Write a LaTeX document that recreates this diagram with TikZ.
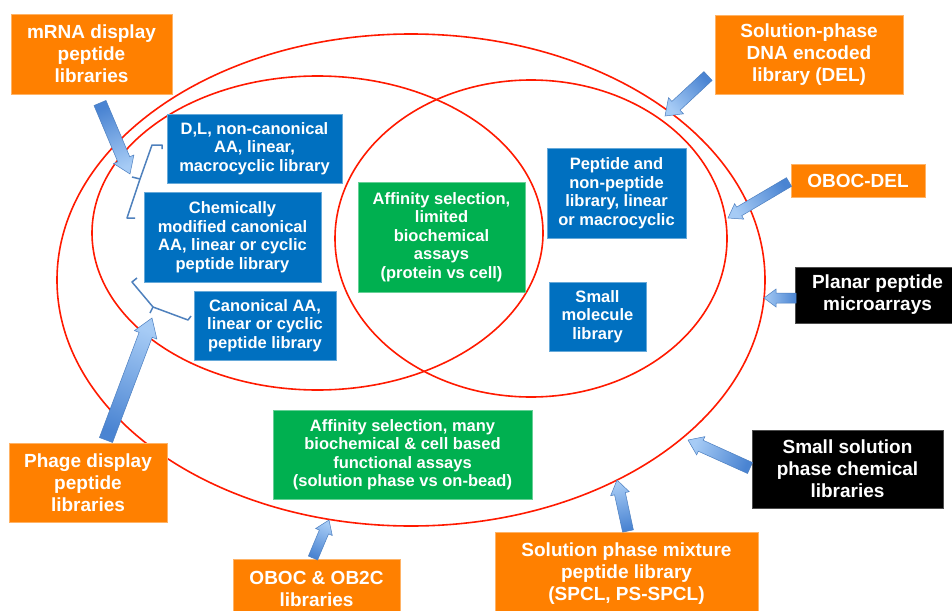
\documentclass[tikz,border=0pt]{standalone}
\usepackage{fontspec}
\setmainfont{Liberation Sans}
\usetikzlibrary{calc}
\definecolor{orng}{HTML}{FF8000}
\definecolor{bluebox}{HTML}{0070C0}
\definecolor{greenbox}{HTML}{00B050}
\definecolor{ellred}{HTML}{FF1A00}
\definecolor{arrowlight}{HTML}{A6CBF5}
\definecolor{arrowdark}{HTML}{4A84D2}
\definecolor{arrowedge}{HTML}{4C7FC0}
\definecolor{bracecol}{HTML}{4F81BD}
\newcommand{\blockarrow}[5]{%
  \pgfmathanglebetweenpoints{\pgfpointanchor{#1}{center}}{\pgfpointanchor{#2}{center}}%
  \pgfmathsetmacro\arrang{\pgfmathresult-90}%
  \coordinate (#1-neck) at ($(#2)!#5!(#1)$);
  \path[arrowfill, shading angle=\arrang]
    ($(#1)!#3!90:(#2)$) -- ($(#1-neck)!#3!90:(#2)$) -- ($(#1-neck)!#4!90:(#2)$) -- (#2)
    -- ($(#1-neck)!#4!-90:(#2)$) -- ($(#1-neck)!#3!-90:(#2)$) -- ($(#1)!#3!-90:(#2)$) -- cycle;
}
\begin{document}
\begin{tikzpicture}[x=1pt,y=-1pt,
  box/.style={inner sep=0pt, align=center, text=white},
  big/.style={font=\fontsize{19}{22}\selectfont\bfseries},
  small/.style={font=\fontsize{16.5}{18.5}\selectfont\bfseries},
  obox/.style={box, big, fill=orng, draw=orng!60!white, line width=0.5pt},
  kbox/.style={box, big, fill=black, draw=black!70!white, line width=0.5pt},
  bbox/.style={box, small, fill=bluebox, draw=bluebox!60!white, line width=0.5pt},
  gbox/.style={box, small, fill=greenbox, draw=greenbox!60!white, line width=0.5pt},
  ell/.style={draw=ellred, line width=1.6pt},
  arrowfill/.style={draw=arrowedge, line width=0.5pt, top color=arrowlight, bottom color=arrowdark},
  bracestyle/.style={draw=bracecol, line width=1.5pt, line join=round}]
\useasboundingbox (0,0) rectangle (952,610);
\clip (0,0) rectangle (952,610);
\fill[white] (0,0) rectangle (952,610);

% ellipses
\path[ell] (411,280) ellipse [x radius=354pt, y radius=246pt];
\path[ell] (317.5,233) ellipse [x radius=225.5pt, y radius=157pt];
\path[ell] (531,238.5) ellipse [x radius=196pt, y radius=158.5pt];

% inner boxes
\node[bbox, minimum width=175pt, minimum height=69pt] (dl) at (254.5,148.5) {D,L, non-canonical\\AA, linear,\\macrocyclic library};
\node[bbox, minimum width=177pt, minimum height=90pt] (chem) at (232.5,237) {Chemically\\modified canonical\\AA, linear or cyclic\\peptide library};
\node[bbox, minimum width=142pt, minimum height=69pt] (canon) at (265,325.5) {Canonical AA,\\linear or cyclic\\peptide library};
\node[bbox, minimum width=139pt, minimum height=90pt] (pep) at (616.5,193) {Peptide and\\non-peptide\\library, linear\\or macrocyclic};
\node[bbox, minimum width=97pt, minimum height=69pt] (smol) at (597.5,316.5) {Small\\molecule\\library};
\node[gbox, minimum width=167pt, minimum height=110pt] (aff1) at (441.5,237) {Affinity selection,\\limited\\biochemical\\assays\\(protein vs cell)};
\node[gbox, minimum width=259pt, minimum height=89pt] (aff2) at (402.5,454.5) {Affinity selection, many\\biochemical \& cell based\\functional assays\\(solution phase vs on-bead)};

% outer boxes
\node[obox, minimum width=161pt, minimum height=80pt] (mrna) at (91.5,54) {mRNA display\\peptide\\libraries};
\node[obox, minimum width=188pt, minimum height=79pt] (del) at (809,54.5) {Solution-phase\\DNA encoded\\library (DEL)};
\node[obox, minimum width=134pt, minimum height=33pt] (obocdel) at (858,180.5) {OBOC-DEL};
\node[kbox, minimum width=165pt, minimum height=56pt] (planar) at (877.5,295) {Planar peptide\\microarrays};
\node[kbox, minimum width=191pt, minimum height=78pt] (smallsol) at (847.5,469) {Small solution\\phase chemical\\libraries};
\node[obox, minimum width=158pt, minimum height=79pt] (phage) at (88,482.5) {Phage display\\peptide\\libraries};
\node[obox, minimum width=167pt, minimum height=59pt] (oboc) at (316.5,588.5) {OBOC \& OB2C\\libraries};
\node[obox, minimum width=263pt, minimum height=83pt] (solmix) at (626.5,573.5) {Solution phase mixture\\peptide library\\(SPCL, PS-SPCL)};

% arrow end points
\coordinate (a1t) at (100,103);  \coordinate (a1h) at (130,174);
\coordinate (a2t) at (708,76);   \coordinate (a2h) at (665,116);
\coordinate (a3t) at (789,182);  \coordinate (a3h) at (728,218);
\coordinate (a4t) at (796,298);  \coordinate (a4h) at (764,298);
\coordinate (a5t) at (750,468);  \coordinate (a5h) at (688,440);
\coordinate (a6t) at (106,440);  \coordinate (a6h) at (152,318);
\coordinate (a7t) at (313,558);  \coordinate (a7h) at (329,520);
\coordinate (a8t) at (628,531);  \coordinate (a8h) at (617,480);

\blockarrow{a1t}{a1h}{6.5pt}{11pt}{16pt}
\blockarrow{a2t}{a2h}{6pt}{11pt}{15pt}
\blockarrow{a3t}{a3h}{5pt}{9pt}{13pt}
\blockarrow{a4t}{a4h}{5pt}{9pt}{12pt}
\blockarrow{a5t}{a5h}{6pt}{10pt}{14pt}
\blockarrow{a6t}{a6h}{7pt}{12pt}{18pt}
\blockarrow{a7t}{a7h}{5pt}{9pt}{13pt}
\blockarrow{a8t}{a8h}{5.5pt}{9.5pt}{14pt}

% braces
\path[bracestyle] (162,149) -- (162,145) -- (152,145) -- (140,179) -- (127,218) -- (135,218);
\path[bracestyle] (140,179) -- (132,177);
\path[bracestyle] (137,278) -- (132,282) -- (153,307) -- (188,320) -- (191,316);
\path[bracestyle] (153,307) -- (150,313);
\end{tikzpicture}
\end{document}
